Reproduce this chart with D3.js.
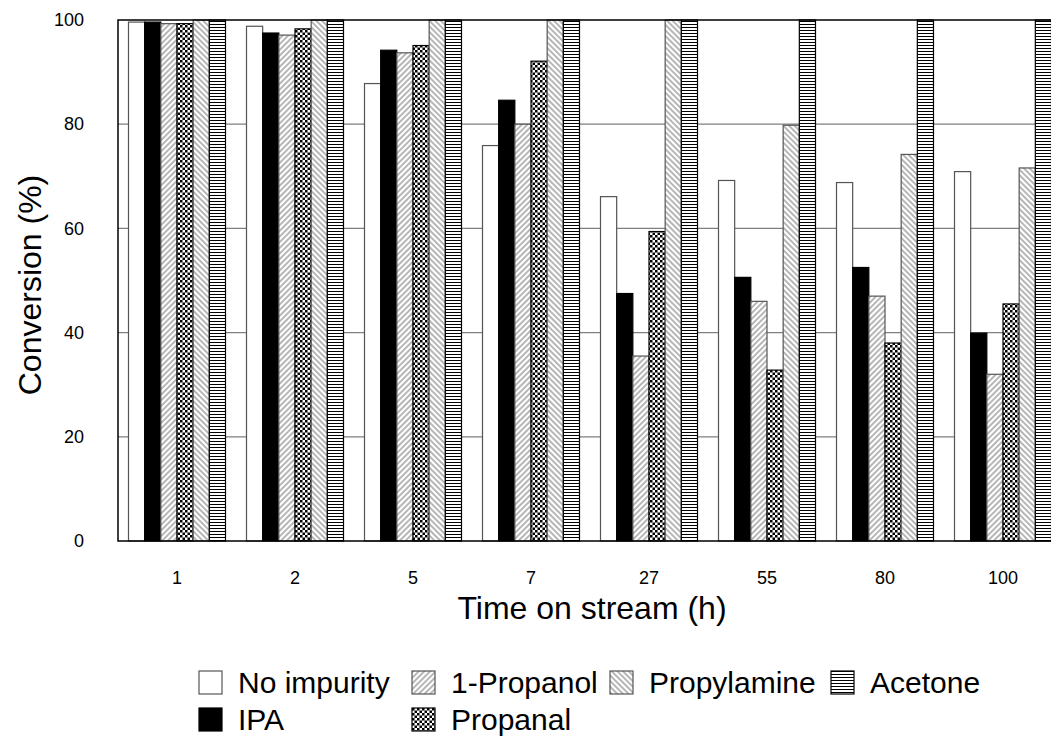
<!DOCTYPE html>
<html>
<head>
<meta charset="utf-8">
<script src="https://cdn.jsdelivr.net/npm/d3@7"></script>
<style>
  body { margin: 0; background: #fff; }
  svg { display: block; font-family: Arial, "Liberation Sans", sans-serif; }
</style>
</head>
<body>
<div id="chart"></div>
<script>
// data
const times = ["1", "2", "5", "7", "27", "55", "80", "100"];
const seriesNames = ["No impurity", "IPA", "1-Propanol", "Propanal", "Propylamine", "Acetone"];
const noImpurity  = [99.6, 98.8, 87.8, 75.9, 66.1, 69.2, 68.8, 70.9];
const ipa         = [99.6, 97.5, 94.2, 84.6, 47.5, 50.6, 52.5, 39.9];
const propanol1   = [99.3, 97.1, 93.7, 80.0, 35.5, 46.0, 47.0, 32.0];
const propanal    = [99.3, 98.3, 95.1, 92.1, 59.4, 32.8, 38.0, 45.5];
const propylamine = [100, 100, 100, 100, 100, 79.8, 74.2, 71.6];
const acetone     = [100, 100, 100, 100, 100, 100, 100, 100];
const yTicks = [0, 20, 40, 60, 80, 100];

const seriesValues = [noImpurity, ipa, propanol1, propanal, propylamine, acetone];

const width = 1051;
const height = 742;
const plot = { left: 118, right: 1062, top: 20, bottom: 541 };

const svg = d3.select("#chart")
    .append("svg")
    .attr("width", width)
    .attr("height", height);

// fill patterns
const defs = svg.append("defs");

function hatch(id, angle, color) {
    const p = defs.append("pattern")
        .attr("id", id)
        .attr("patternUnits", "userSpaceOnUse")
        .attr("width", 4)
        .attr("height", 4)
        .attr("patternTransform", `rotate(${angle})`);
    p.append("rect").attr("width", 4).attr("height", 4).attr("fill", "#fff");
    p.append("line")
        .attr("x1", 1).attr("y1", 0).attr("x2", 1).attr("y2", 4)
        .attr("stroke", color)
        .attr("stroke-width", 1);
}
hatch("fwd", 45, "#6e6e6e");
hatch("bwd", -45, "#6e6e6e");

const horiz = defs.append("pattern")
    .attr("id", "horiz")
    .attr("patternUnits", "userSpaceOnUse")
    .attr("width", 6)
    .attr("height", 3);
horiz.append("rect").attr("width", 6).attr("height", 3).attr("fill", "#fff");
horiz.append("rect").attr("y", 0).attr("width", 6).attr("height", 1).attr("fill", "#000");

const checker = defs.append("pattern")
    .attr("id", "checker")
    .attr("patternUnits", "userSpaceOnUse")
    .attr("width", 5)
    .attr("height", 5);
checker.append("rect").attr("width", 5).attr("height", 5).attr("fill", "#fff");
checker.append("rect").attr("width", 2.5).attr("height", 2.5).attr("fill", "#000");
checker.append("rect").attr("x", 2.5).attr("y", 2.5).attr("width", 2.5).attr("height", 2.5).attr("fill", "#000");

const fills = ["#fff", "#000", "url(#fwd)", "url(#checker)", "url(#bwd)", "url(#horiz)"];
const strokes = ["#555", "#000", "#555", "#000", "#555", "#000"];

// scales
const x = d3.scaleBand()
    .domain(times)
    .range([plot.left, plot.right])
    .paddingInner(0.178)
    .paddingOuter(0.089);

const xs = d3.scaleBand()
    .domain(seriesNames)
    .range([0, x.bandwidth()]);

const y = d3.scaleLinear()
    .domain([0, 100])
    .range([plot.bottom, plot.top]);

// gridlines
svg.append("g")
    .selectAll("line")
    .data(yTicks.filter(t => t > 0 && t < 100))
    .enter().append("line")
    .attr("x1", plot.left)
    .attr("x2", plot.right)
    .attr("y1", d => y(d))
    .attr("y2", d => y(d))
    .attr("stroke", "#7f7f7f")
    .attr("stroke-width", 1.3);

// bars
const rows = [];
times.forEach((t, i) => {
    seriesNames.forEach((s, j) => {
        rows.push({ time: t, series: s, idx: j, value: seriesValues[j][i] });
    });
});

svg.append("g")
    .selectAll("rect")
    .data(rows)
    .enter().append("rect")
    .attr("x", d => x(d.time) + xs(d.series))
    .attr("y", d => y(d.value))
    .attr("width", xs.bandwidth())
    .attr("height", d => y(0) - y(d.value))
    .attr("fill", d => fills[d.idx])
    .attr("stroke", d => strokes[d.idx])
    .attr("stroke-width", 1.2);

// frame
svg.append("path")
    .attr("d", `M${plot.right},${plot.top}H${plot.left}V${plot.bottom}H${plot.right}`)
    .attr("fill", "none")
    .attr("stroke", "#000")
    .attr("stroke-width", 1.5);

// axes
const yAxis = svg.append("g")
    .attr("transform", `translate(${plot.left},0)`)
    .call(d3.axisLeft(y).tickValues(yTicks).tickSize(0).tickPadding(34));
yAxis.select(".domain").remove();
yAxis.selectAll("text").attr("font-size", 18).attr("fill", "#000").attr("font-family", null);

const xAxis = svg.append("g")
    .attr("transform", `translate(0,${plot.bottom})`)
    .call(d3.axisBottom(x).tickSize(0).tickPadding(30));
xAxis.select(".domain").remove();
xAxis.selectAll("text").attr("font-size", 18).attr("fill", "#000").attr("font-family", null);

// axis titles
svg.append("text")
    .attr("x", 592)
    .attr("y", 619)
    .attr("text-anchor", "middle")
    .attr("font-size", 32)
    .text("Time on stream (h)");

svg.append("text")
    .attr("transform", `translate(41,285) rotate(-90)`)
    .attr("text-anchor", "middle")
    .attr("font-size", 32)
    .text("Conversion (%)");

// legend
const legendPos = [
    [199, 671], [199, 708], [412, 671], [412, 708], [610, 671], [831, 671]
];
const legend = svg.append("g")
    .selectAll("g")
    .data(seriesNames)
    .enter().append("g")
    .attr("transform", (d, i) => `translate(${legendPos[i][0]},${legendPos[i][1]})`);

legend.append("rect")
    .attr("width", 23)
    .attr("height", 23)
    .attr("fill", (d, i) => fills[i])
    .attr("stroke", (d, i) => strokes[i])
    .attr("stroke-width", 1.2);

legend.append("text")
    .attr("x", 39)
    .attr("y", 22)
    .attr("font-size", 30)
    .text(d => d);
</script>
</body>
</html>
